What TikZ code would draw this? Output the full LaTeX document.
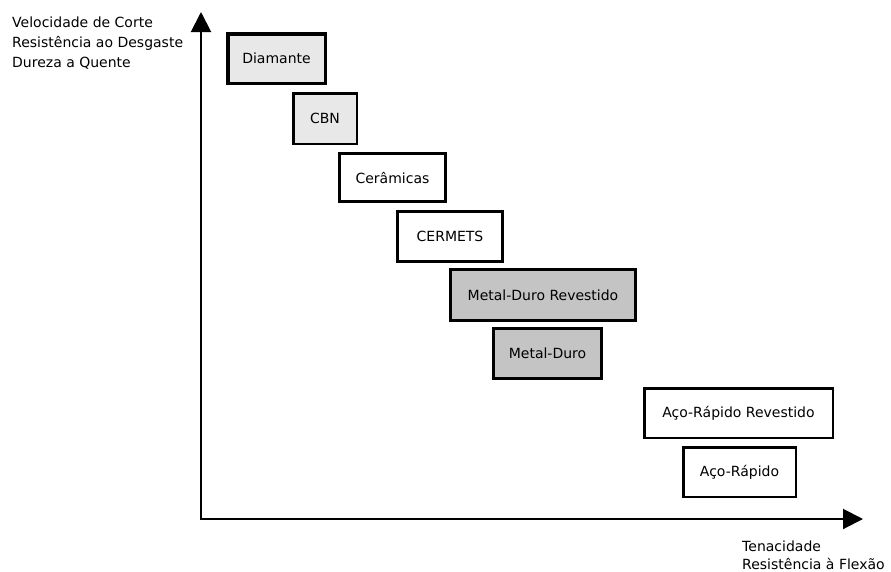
\documentclass[tikz,border=0pt]{standalone}
\usepackage{fontspec}
\setmainfont{DejaVu Sans}
\usetikzlibrary{arrows.meta}
\definecolor{lightfill}{HTML}{E8E8E8}
\definecolor{midfill}{HTML}{C4C4C4}
\begin{document}
\begin{tikzpicture}[x=1pt,y=-1pt,
  lbl/.style={font=\fontsize{14}{20}\selectfont, inner sep=0pt, anchor=west, align=left},
  boxt/.style={draw=black, font=\fontsize{14}{16}\selectfont, inner sep=0pt},
  axis/.style={line width=2pt, {Triangle[length=20pt,width=20pt]}-{Triangle[length=20pt,width=20pt]}}
]
\useasboundingbox (0,0) rectangle (891,571);
\fill[white] (0,0) rectangle (891,571);
% axes
\coordinate (ytop) at (201,12);
\coordinate (orig) at (201,519);
\coordinate (xend) at (863,519);
\draw[axis] (ytop) -- (orig) -- (xend);
% axis labels
\node[lbl] (ylab) at (12,43) {Velocidade de Corte\\Resistência ao Desgaste\\Dureza a Quente};
\node[lbl, font=\fontsize{14}{18}\selectfont] (xlab) at (742,555) {Tenacidade\\Resistência à Flexão};
% boxes
\node[boxt, fill=lightfill, line width=3.5pt, minimum width=97.5pt, minimum height=49.5pt] (dia) at (276.5,58.5) {Diamante};
\node[boxt, fill=lightfill, line width=2.5pt, minimum width=63.5pt, minimum height=50.5pt] (cbn) at (325,118.5) {CBN};
\node[boxt, fill=white, line width=3pt, minimum width=106pt, minimum height=48pt] (cer) at (392.5,177.5) {Cerâmicas};
\node[boxt, fill=white, line width=3pt, minimum width=105pt, minimum height=50pt] (cerm) at (450,236.5) {CERMETS};
\node[boxt, fill=midfill, line width=3pt, minimum width=185pt, minimum height=51pt] (mdr) at (543,295) {Metal-Duro Revestido};
\node[boxt, fill=midfill, line width=3pt, minimum width=108pt, minimum height=50pt] (md) at (547.5,353.5) {Metal-Duro};
\node[boxt, fill=white, line width=2.5pt, minimum width=188.5pt, minimum height=49.5pt] (arr) at (738.5,413) {Aço-Rápido Revestido};
\node[boxt, fill=white, line width=2.5pt, minimum width=112.5pt, minimum height=49.5pt] (ar) at (739.5,472) {Aço-Rápido};
\end{tikzpicture}
\end{document}
